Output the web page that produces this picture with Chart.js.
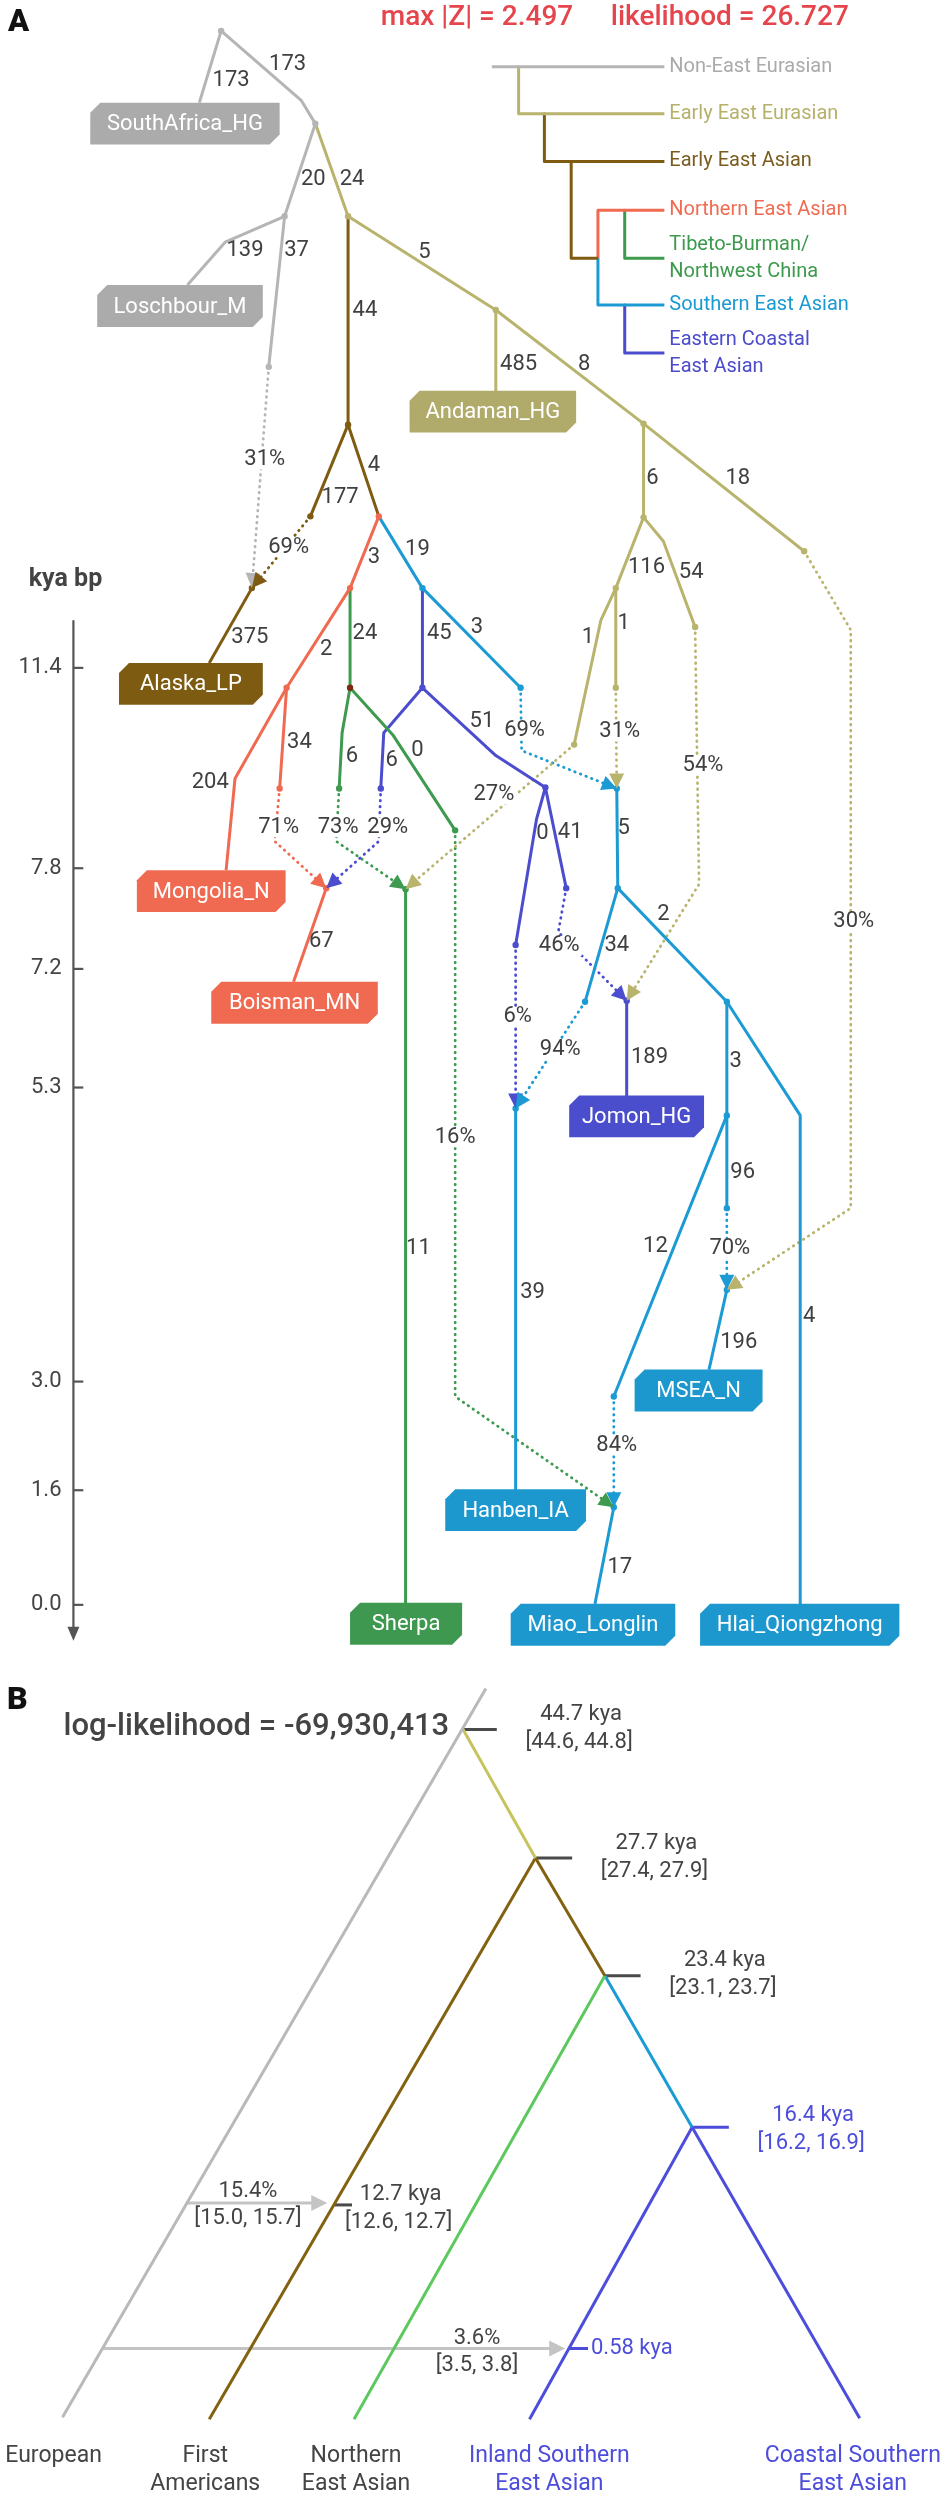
<!DOCTYPE html>
<html><head><meta charset="utf-8">
<script src="https://cdn.jsdelivr.net/npm/chart.js@4.4.1/dist/chart.umd.min.js"></script>
<style>html,body{margin:0;padding:0;background:#fff}#wrap{position:relative;width:947px;height:2500px}</style>
</head><body><div id="wrap"><canvas id="c"></canvas></div>
<script>
// ---------------- DATA ----------------
// Graph nodes: name, horizontal layout position, vertical (time-like) position
const nodeTable = [
 ['R0',219,27],['G1',300,97],['N1',314,120],['SA',197,99],['G2',283,213],['L1',223,239],['LO',185,282],['G3',267,364],
 ['O1',347,213],['O2',496,307],['AN',496,388],['O3',645,421],['O4',807,549],['O4b',854,628],['O4c',854,1208],
 ['O5',645,515],['O6',617,586],['O6b',602,618],['O9',575,743],['O8',617,686],['O7b',665,539],['O7',697,625],['O7c',701,883],
 ['B1',347,422],['B2',309,514],['B3',378,514],['ALJ',250,586],['AL',207,661],
 ['R1',349,586],['C1',422,586],['R2',285,686],['MOb',233,777],['MO',224,869],['R3',278,787],['R3b',273,840],['BOJ',325,887],['BO',292,981],
 ['G4',349,686],['G5b',341,731],['G5',338,787],['G5c',335,840],['G6b',392,733],['G6',455,829],['G6c',455,1397],['SHJ',405,888],['SH',405,1604],
 ['P1',422,686],['P2b',383,731],['P2',380,787],['P2c',378,840],['P3b',496,754],['P3',546,786],['P4b',537,818],['P4',516,944],['P5',567,887],['P5c',559,931],
 ['C2',521,686],['C2c',522,749],['SEJ',618,787],['C3',619,887],['C4',586,1001],['C5',729,1001],['C5b',803,1115],['HL',803,1605],
 ['C6',729,1115],['C7',729,1208],['MSJ',729,1290],['MS',711,1370],['C8',615,1397],['MLJ',615,1508],['ML',596,1605],
 ['JOJ',628,1000],['JO',628,1095],['HBJ',516,1108],['HB',516,1490],
 // panel B
 ['bTop',486,1690],['bApex',463,1731],['b27',536,1860],['b23',606,1978],['b16',694,2130],['b12',333,2208],['b058',570,2352],
 ['bEu',59,2421],['bFA',207,2423],['bNEA',353,2423],['bISEA',530,2423],['bCSEA',863,2422]
];
// Tree edges (path, clade)
const driftEdges = [
 ['R0 SA','grey'],['R0 G1 N1','grey'],['N1 G2','grey'],['G2 L1 LO','grey'],['G2 G3','grey'],
 ['N1 O1','olive'],['O1 O2','olive'],['O2 O3','olive'],['O3 O4','olive'],['O2 AN','olive'],['O3 O5','olive'],['O5 O6','olive'],
 ['O5 O7b O7','olive'],['O6 O6b O9','olive'],['O6 O8','olive'],
 ['O1 B1','brown'],['B1 B2','brown'],['B1 B3','brown'],['ALJ AL','brown'],
 ['B3 R1','red'],['R1 R2','red'],['R2 MOb MO','red'],['R2 R3','red'],['BOJ BO','red'],
 ['R1 G4','green'],['G4 G5b G5','green'],['G4 G6b G6','green'],['SHJ SH','green'],
 ['B3 C1','blue'],['C1 C2','blue'],['C1 P1','purple'],['P1 P2b P2','purple'],['P1 P3b P3','purple'],['P3 P4b P4','purple'],['P3 P5','purple'],['JOJ JO','purple'],
 ['SEJ C3','blue'],['C3 C4','blue'],['C3 C5','blue'],['C5 C6','blue'],['C5 C5b HL','blue'],['C6 C7','blue'],['C6 C8','blue'],
 ['MSJ MS','blue'],['MLJ ML','blue'],['HBJ HB','blue']
];
// Admixture edges (path, clade)
const admixEdges = [
 ['G3 ALJ','grey'],['B2 ALJ','brown'],['R3 R3b BOJ','red'],['P2 P2c BOJ','purple'],['G5 G5c SHJ','green'],['O9 SHJ','olive'],
 ['C2 C2c SEJ','blue'],['O8 SEJ','olive'],['P5 P5c JOJ','purple'],['O7 O7c JOJ','olive'],['P4 HBJ','purple'],['C4 HBJ','blue'],
 ['C7 MSJ','blue'],['O4 O4b O4c MSJ','olive'],['C8 MLJ','blue'],['G6 G6c MLJ','green']
];
// Drift values (x1000) on edges
const driftText = ['173','173','20','24','139','37','5','44','485','8','4','177','18','6','116','54','3','19','1','1','375','24','45','3','2','51','34','6','0','6','204','0','41','5','2','67','34','189','3','96','11','39','12','4','196','17'];
const driftX = [229,286,312,351,243,295,424,364,519,585,373,339,740,654,648,693,373,417,589,625,248,364,439,477,325,482,298,351,417,391,208,543,571,625,665,320,618,651,738,745,418,533,657,812,741,621];
const driftY = [77,61,176,176,247,247,249,307,362,362,463,495,476,476,565,570,555,547,636,621,636,632,632,625,648,720,741,755,749,759,781,832,831,827,913,941,945,1057,1061,1172,1248,1293,1246,1317,1343,1569];
// Admixture proportions
const admixText = ['31%','69%','71%','73%','29%','27%','69%','31%','54%','30%','46%','6%','94%','16%','70%','84%'];
const admixX = [263,287,277,337,387,494,525,621,705,857,560,518,561,455,732,618];
const admixY = [457,545,826,826,826,793,729,730,764,920,945,1016,1049,1137,1248,1446];
// Sampled populations
const leafNames = ['SouthAfrica_HG','Loschbour_M','Andaman_HG','Alaska_LP','Mongolia_N','Boisman_MN','Jomon_HG','MSEA_N','Hanben_IA','Sherpa','Miao_Longlin','Hlai_Qiongzhong'];
const leafClade = ['grey','grey','olive','brown','red','red','purple','blue','blue','green','blue','blue'];
const leafLeft = [87,94,409,116,134,209,570,636,445,349,511,702];
const leafRight = [278,261,577,261,284,377,706,765,587,462,677,903];
const leafTop = [99,282,388,661,869,981,1095,1370,1490,1604,1605,1605];
// Sample-age axis
const kyaTicks = ['11.4','7.8','7.2','5.3','3.0','1.6','0.0'];
const kyaTickPos = [666,867,968,1087,1382,1491,1606];
// Legend clades
const cladeNames = [['Non-East Eurasian'],['Early East Eurasian'],['Early East Asian'],['Northern East Asian'],['Tibeto-Burman/','Northwest China'],['Southern East Asian'],['Eastern Coastal','East Asian']];
const cladeKeys = ['grey','olive','brown','red','green','blue','purple'];
// Panel B (tree with split times)
const bEdges = [['bTop bEu','bgrey'],['bApex b27','bolive'],['b27 bFA','bbrown'],['b27 b23','bbrown'],['b23 bNEA','bgreen'],['b23 b16','bblue'],['b16 bISEA','bpurple'],['b16 bCSEA','bpurple']];
const splitNodes = ['bApex','b27','b23','b12','b16'];
const splitDate = ['44.7 kya','27.7 kya','23.4 kya','12.7 kya','16.4 kya'];
const splitCI = ['[44.6, 44.8]','[27.4, 27.9]','[23.1, 23.7]','[12.6, 12.7]','[16.2, 16.9]'];
const bPulseText = ['15.4%','3.6%'];
const bPulseCI = ['[15.0, 15.7]','[3.5, 3.8]'];
const bLeafNames = [['European'],['First','Americans'],['Northern','East Asian'],['Inland Southern','East Asian'],['Coastal Southern','East Asian']];
const bLeafNodes = ['bEu','bFA','bNEA','bISEA','bCSEA'];

// ---------------- STYLE ----------------
const COL = {grey:'#b5b5b5',olive:'#b9b46d',brown:'#7e5b10',red:'#f06a51',green:'#3d9a4e',blue:'#1c9ad3',purple:'#4b4dce',
  bgrey:'#b9b9b9',bolive:'#c6c45e',bbrown:'#82610f',bgreen:'#5cc85e',bblue:'#1b9bd3',bpurple:'#4d4ddb'};
const BOXCOL = {grey:'#ababab',olive:'#b1ab6b',brown:'#7d5c12',red:'#ef6a50',green:'#3e9850',blue:'#1c98cf',purple:'#4a4dcc'};
const LEGTXT = {grey:'#aaaaaa',olive:'#b5b06a',brown:'#7a5c1e',red:'#f06b52',green:'#3c9a4c',blue:'#1b9ad2',purple:'#4b4bcc'};
const INK = '#444444';
const FONT = 'Roboto, "Noto Sans", sans-serif';

const nodeIdx = {}; nodeTable.forEach((r,i)=>nodeIdx[r[0]]=i);
const pt = n => ({x: nodeTable[nodeIdx[n]][1], y: nodeTable[nodeIdx[n]][2]});
const path = s => s.split(' ').map(pt);

const datasets = [];
// node dots (drawn on top: first datasets)
const dotGroups = {grey:['R0','N1','G2','G3'],olive:['O1','O2','O3','O4','O5','O6','O7','O8','O9'],brown:['B1','B2','ALJ'],
  red:['B3','R1','R2','R3','BOJ'],green:['G5','G6','SHJ'],purple:['P1','P2','P3','P4','P5','JOJ'],
  blue:['C1','C2','C3','C4','C5','C6','C7','C8','SEJ','HBJ','MSJ','MLJ']};
Object.keys(dotGroups).forEach(k=>datasets.push({data:dotGroups[k].map(pt),showLine:false,pointRadius:3.2,pointBackgroundColor:COL[k],pointBorderWidth:0}));
datasets.push({data:[pt('G4')],showLine:false,pointRadius:3.2,pointBackgroundColor:'#7a2a12',pointBorderWidth:0});
const lineDs = (data,color,w,dotted)=>({data,showLine:true,borderColor:color,borderWidth:w,pointRadius:0,fill:false,clip:false,
  borderDash:dotted?[0.5,5.5]:[],borderCapStyle:dotted?'round':'butt',borderJoinStyle:'round',tension:0});
driftEdges.forEach(e=>datasets.push(lineDs(path(e[0]),COL[e[1]],3,false)));
admixEdges.forEach(e=>datasets.push(lineDs(path(e[0]),COL[e[1]],2.8,true)));
// legend tree
const legY = [63,110,158,207,255,302,350];
datasets.push(lineDs([{x:492,y:legY[0]},{x:666,y:legY[0]}],COL.grey,3,false));
datasets.push(lineDs([{x:519,y:legY[0]},{x:519,y:legY[1]},{x:666,y:legY[1]}],COL.olive,3,false));
datasets.push(lineDs([{x:545,y:legY[1]},{x:545,y:legY[2]},{x:666,y:legY[2]}],COL.brown,3,false));
datasets.push(lineDs([{x:572,y:legY[2]},{x:572,y:legY[4]},{x:599,y:legY[4]}],COL.brown,3,false));
datasets.push(lineDs([{x:599,y:legY[4]},{x:599,y:legY[3]},{x:666,y:legY[3]}],COL.red,3,false));
datasets.push(lineDs([{x:626,y:legY[3]},{x:626,y:legY[4]},{x:666,y:legY[4]}],COL.green,3,false));
datasets.push(lineDs([{x:599,y:legY[4]},{x:599,y:legY[5]},{x:666,y:legY[5]}],COL.blue,3,false));
datasets.push(lineDs([{x:626,y:legY[5]},{x:626,y:legY[6]},{x:666,y:legY[6]}],COL.purple,3,false));
// kya axis
datasets.push(lineDs([{x:70,y:619},{x:70,y:1632}],'#555555',2.2,false));
kyaTickPos.forEach(y=>datasets.push(lineDs([{x:70,y},{x:80,y}],'#555555',2.2,false)));
// panel B
bEdges.forEach(e=>datasets.push(lineDs(path(e[0]),COL[e[1]],3,false)));
const tickLen = [34,37,36,18,37];
splitNodes.forEach((n,i)=>{const p=pt(n);datasets.push(lineDs([p,{x:p.x+tickLen[i],y:p.y}],i===4?COL.bpurple:'#4a4a4a',3,false));});
{const p=pt('b058');datasets.push(lineDs([p,{x:p.x+19,y:p.y}],COL.bpurple,3,false));}
// pulse arrows (grey)
const pulseFrom = [{x:184,y:2206},{x:99,y:2352}];
const pulseTo = [{x:326,y:2206},{x:566,y:2352}];
pulseFrom.forEach((f,i)=>datasets.push(lineDs([f,{x:pulseTo[i].x-10,y:pulseTo[i].y}],'#c4c4c4',3,false)));

function arrow(ctx,x0,y0,x1,y1,color,len,hw){
  const a=Math.atan2(y1-y0,x1-x0),c=Math.cos(a),s=Math.sin(a);
  ctx.beginPath();ctx.moveTo(x1,y1);
  ctx.lineTo(x1-len*c+hw*s,y1-len*s-hw*c);ctx.lineTo(x1-len*c-hw*s,y1-len*s+hw*c);ctx.closePath();
  ctx.fillStyle=color;ctx.fill();
}
function txt(ctx,t,x,y,size,color,opt){
  opt=opt||{};
  ctx.font=(opt.weight||400)+' '+size+'px '+FONT;
  ctx.textAlign=opt.align||'center';ctx.textBaseline='middle';
  if(opt.bg){const w=ctx.measureText(t).width;ctx.fillStyle='#fff';
    const l=opt.align==='left'?x:x-w/2;ctx.fillRect(l-2,y-size*0.45,w+4,size*0.9);}
  ctx.fillStyle=color;ctx.fillText(t,x,y);
}

const annot = {id:'annot',afterDatasetsDraw(chart){
  const ctx=chart.ctx, sx=chart.scales.x, sy=chart.scales.y;
  const X=v=>sx.getPixelForValue(v), Y=v=>sy.getPixelForValue(v);
  ctx.save();
  // arrowheads of admixture edges
  admixEdges.forEach(e=>{const p=path(e[0]);const a=p[p.length-2],b=p[p.length-1];
    arrow(ctx,X(a.x),Y(a.y),X(b.x),Y(b.y),COL[e[1]],15,7.5);});
  // drift labels
  driftText.forEach((t,i)=>txt(ctx,t,X(driftX[i]),Y(driftY[i]),22,'#404040'));
  admixText.forEach((t,i)=>txt(ctx,t,X(admixX[i]),Y(admixY[i]),22,'#404040',{bg:true}));
  // leaf boxes
  leafNames.forEach((n,i)=>{
    const l=X(leafLeft[i]),r=X(leafRight[i]),t=Y(leafTop[i]),b=Y(leafTop[i]+42),c=10;
    ctx.beginPath();ctx.moveTo(l+c,t);ctx.lineTo(r,t);ctx.lineTo(r,b-c);ctx.lineTo(r-c,b);ctx.lineTo(l,b);ctx.lineTo(l,t+c);ctx.closePath();
    ctx.fillStyle=BOXCOL[leafClade[i]];ctx.fill();
    txt(ctx,n,(l+r)/2,(t+b)/2+1,22,'#ffffff');
  });
  // legend text
  cladeNames.forEach((lines,i)=>{
    const y=Y(legY[i]);
    if(lines.length===1) txt(ctx,lines[0],X(671),y,20,LEGTXT[cladeKeys[i]],{align:'left'});
    else {txt(ctx,lines[0],X(671),y-13,20,LEGTXT[cladeKeys[i]],{align:'left'});txt(ctx,lines[1],X(671),y+14,20,LEGTXT[cladeKeys[i]],{align:'left'});}
  });
  // title & panel letter
  txt(ctx,'A',X(4),Y(19),31,'#111',{align:'left',weight:900});
  txt(ctx,'max |Z| = 2.497',X(380),Y(14),28,'#e5454d',{align:'left',weight:500});
  txt(ctx,'likelihood = 26.727',X(612),Y(14),28,'#e5454d',{align:'left',weight:500});
  // kya axis
  txt(ctx,'kya bp',X(62),Y(578),25,INK,{weight:700});
  kyaTicks.forEach((t,i)=>txt(ctx,t,X(58),Y(kyaTickPos[i]),22,INK,{align:'right'}));
  arrow(ctx,X(70),Y(1620),X(70),Y(1642),'#555555',14,6);
  // ----- panel B -----
  txt(ctx,'B',X(3),Y(1702),32,'#111',{align:'left',weight:900});
  txt(ctx,'log-likelihood = -69,930,413',X(60),Y(1729),31,INK,{align:'left',weight:500});
  const dateX=[582,658,727,400,816], dateY=[1716,1845,1963,2198,2118];
  splitDate.forEach((d,i)=>{const c=i===4?COL.bpurple:INK;
    txt(ctx,d,X(dateX[i]),Y(dateY[i]),22,c);txt(ctx,splitCI[i],X(dateX[i]-2),Y(dateY[i]+28),22,c);});
  const pulseLX=[246,477], pulseLY=[2195,2342];
  bPulseText.forEach((t,i)=>{txt(ctx,t,X(pulseLX[i]),Y(pulseLY[i]),22,INK);txt(ctx,bPulseCI[i],X(pulseLX[i]),Y(pulseLY[i]+27),22,INK);});
  pulseFrom.forEach((f,i)=>arrow(ctx,X(f.x),Y(f.y),X(pulseTo[i].x),Y(pulseTo[i].y),'#c4c4c4',16,8));
  txt(ctx,'0.58 kya',X(592),Y(2352),22,COL.bpurple,{align:'left'});
  bLeafNodes.forEach((n,i)=>{const p=pt(n);const c=i>=3?COL.bpurple:INK;const cx=[50,203,355,550,856][i];
    txt(ctx,bLeafNames[i][0],X(cx),Y(2460),23,c);if(bLeafNames[i][1])txt(ctx,bLeafNames[i][1],X(cx),Y(2488),23,c);});
  ctx.restore();
}};

new Chart(document.getElementById('c').getContext('2d'),{
  type:'scatter',
  data:{datasets},
  options:{responsive:true,maintainAspectRatio:false,animation:false,events:[],
    layout:{padding:0},
    scales:{x:{type:'linear',min:0,max:947,display:false},y:{type:'linear',min:0,max:2500,reverse:true,display:false}},
    plugins:{legend:{display:false},tooltip:{enabled:false}}},
  plugins:[annot]
});
</script></body></html>
